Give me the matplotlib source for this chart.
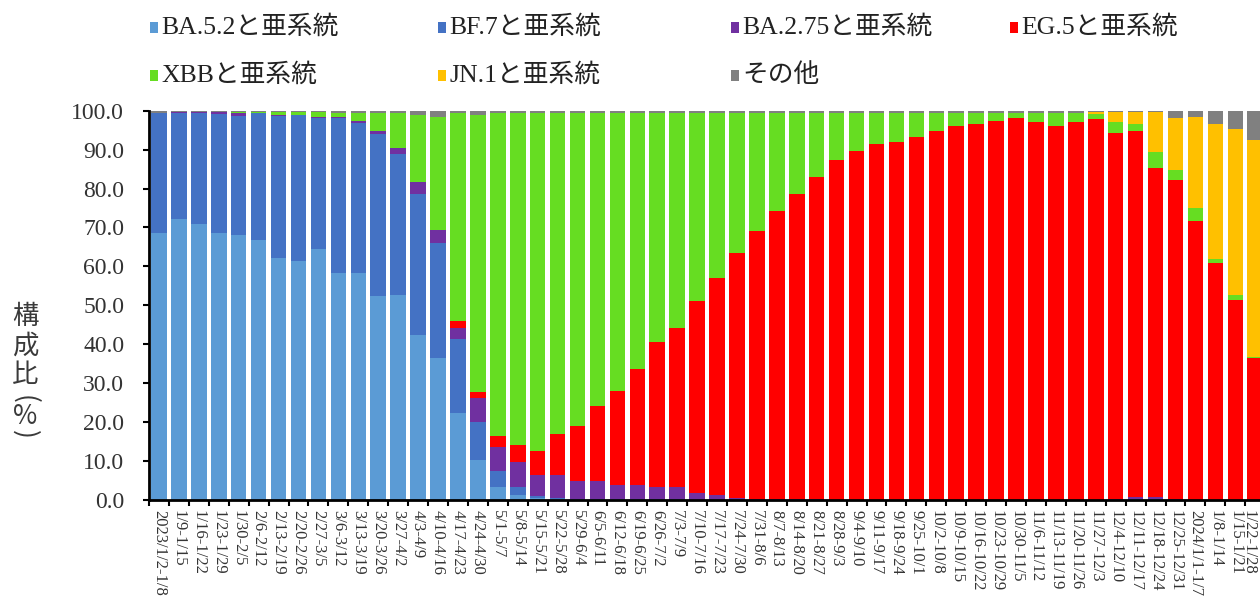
"""Weekly variant share (stacked 100% bars), 2023/1 - 2024/1."""

import matplotlib
matplotlib.use("Agg")
import matplotlib.pyplot as plt
from matplotlib.patches import Rectangle
from matplotlib.ticker import FixedLocator, FuncFormatter
import numpy as np

weeks = [
    "2023/1/2-1/8", "1/9-1/15", "1/16-1/22", "1/23-1/29", "1/30-2/5", "2/6-2/12",
    "2/13-2/19", "2/20-2/26", "2/27-3/5", "3/6-3/12", "3/13-3/19", "3/20-3/26",
    "3/27-4/2", "4/3-4/9", "4/10-4/16", "4/17-4/23", "4/24-4/30", "5/1-5/7",
    "5/8-5/14", "5/15-5/21", "5/22-5/28", "5/29-6/4", "6/5-6/11", "6/12-6/18",
    "6/19-6/25", "6/26-7/2", "7/3-7/9", "7/10-7/16", "7/17-7/23", "7/24-7/30",
    "7/31-8/6", "8/7-8/13", "8/14-8/20", "8/21-8/27", "8/28-9/3", "9/4-9/10",
    "9/11-9/17", "9/18-9/24", "9/25-10/1", "10/2-10/8", "10/9-10/15", "10/16-10/22",
    "10/23-10/29", "10/30-11/5", "11/6-11/12", "11/13-11/19", "11/20-11/26",
    "11/27-12/3", "12/4-12/10", "12/11-12/17", "12/18-12/24", "12/25-12/31",
    "2024/1/1-1/7", "1/8-1/14", "1/15-1/21", "1/22-1/28",
]

ba52 = [68.7, 72.3, 70.8, 68.7, 68.1, 66.8, 62.1, 61.5, 64.4, 58.4, 58.4, 52.4,
        52.7, 42.4, 36.6, 22.3, 10.4, 3.4, 1.3, 0.5, 0.2, 0.1, 0.1, 0.1,
        0.1, 0.1, 0.1, 0, 0, 0, 0, 0, 0, 0, 0, 0,
        0, 0, 0, 0, 0, 0, 0, 0, 0, 0, 0, 0,
        0, 0, 0, 0, 0, 0, 0, 0]
bf7 = [30.6, 27.2, 28.7, 30.5, 30.6, 32.6, 36.6, 37.3, 33.8, 39.6, 38.5, 41.5,
       36.3, 36.2, 29.3, 19.0, 9.7, 4.0, 2.1, 0.5, 0.3, 0.2, 0.2, 0.1,
       0.1, 0.1, 0.1, 0.1, 0.1, 0, 0, 0, 0, 0, 0, 0,
       0, 0, 0, 0, 0, 0, 0, 0, 0, 0, 0, 0,
       0, 0.2, 0.2, 0, 0, 0, 0, 0]
ba275 = [0.1, 0.1, 0.1, 0.4, 0.6, 0.1, 0.2, 0.2, 0.2, 0.5, 0.4, 1.0,
         1.5, 3.2, 3.4, 3.0, 6.2, 6.3, 6.4, 5.4, 5.9, 4.6, 4.6, 3.7,
         3.7, 3.2, 3.2, 1.6, 1.2, 0.5, 0.3, 0.3, 0.2, 0.2, 0.1, 0.1,
         0.1, 0.1, 0.1, 0.1, 0.1, 0.1, 0.1, 0.1, 0.1, 0.1, 0.1, 0.1,
         0.3, 0.6, 0.6, 0.2, 0.1, 0.1, 0.1, 0.1]
eg5 = [0, 0, 0, 0, 0, 0, 0, 0, 0, 0, 0, 0,
       0, 0, 0, 1.7, 1.4, 2.7, 4.3, 6.2, 10.5, 14.1, 19.2, 24.1,
       29.7, 37.3, 40.9, 49.4, 55.8, 63.0, 68.8, 73.9, 78.4, 82.8, 87.2, 89.6,
       91.3, 91.9, 93.2, 94.8, 96.0, 96.4, 97.2, 97.9, 96.9, 96.0, 96.9, 97.7,
       94.1, 94.1, 84.6, 82.0, 71.6, 60.9, 51.4, 36.3]
xbb = [0.1, 0.1, 0.1, 0.1, 0.3, 0.2, 0.7, 0.6, 1.2, 1.0, 2.2, 4.5,
       8.8, 17.2, 29.0, 53.3, 71.2, 82.9, 85.4, 86.9, 82.6, 80.5, 75.4, 71.5,
       65.9, 58.8, 55.2, 48.4, 42.4, 36.0, 30.4, 25.3, 20.9, 16.5, 12.2, 9.8,
       8.1, 7.5, 6.2, 4.5, 3.4, 2.9, 2.2, 1.5, 2.5, 3.4, 2.5, 1.4,
       2.8, 1.6, 4.1, 2.6, 3.4, 0.8, 1.2, 0.4]
jn1 = [0, 0, 0, 0, 0, 0, 0, 0, 0, 0, 0, 0,
       0, 0, 0, 0, 0, 0, 0, 0, 0, 0, 0, 0,
       0, 0, 0, 0, 0, 0, 0, 0, 0, 0, 0, 0,
       0, 0, 0, 0, 0, 0, 0, 0, 0, 0, 0, 0.5,
       2.4, 3.1, 10.1, 13.2, 23.4, 34.8, 42.6, 55.8]
other = [0.5, 0.3, 0.3, 0.3, 0.4, 0.3, 0.4, 0.4, 0.4, 0.5, 0.5, 0.6,
         0.7, 1.0, 1.7, 0.7, 1.1, 0.7, 0.5, 0.5, 0.5, 0.5, 0.5, 0.5,
         0.5, 0.5, 0.5, 0.5, 0.5, 0.5, 0.5, 0.5, 0.5, 0.5, 0.5, 0.5,
         0.5, 0.5, 0.5, 0.6, 0.5, 0.6, 0.5, 0.5, 0.5, 0.5, 0.5, 0.3,
         0.4, 0.4, 0.4, 2.0, 1.5, 3.4, 4.7, 7.4]

series = [
    ("BA.5.2と亜系統", ba52, "#5B9BD5"),
    ("BF.7と亜系統", bf7, "#4472C4"),
    ("BA.2.75と亜系統", ba275, "#7030A0"),
    ("EG.5と亜系統", eg5, "#FF0000"),
    ("XBBと亜系統", xbb, "#66DD22"),
    ("JN.1と亜系統", jn1, "#FFC000"),
    ("その他", other, "#808080"),
]

W, H = 1260, 608
TXT = "#333333"

plt.rcParams["font.family"] = ["Liberation Serif", "Noto Sans CJK JP"]
plt.rcParams["ytick.labelsize"] = 17
plt.rcParams["xtick.labelsize"] = 12

fig = plt.figure(figsize=(W / 100, H / 100), dpi=100)
ax = fig.add_axes([149 / W, 108 / H, (W - 149) / W, 389.3 / H])

x = np.arange(len(weeks))
bottom = np.zeros(len(weeks))
for name, values, color in series:
    vals = np.asarray(values, dtype=float)
    ax.bar(x, vals, bottom=bottom, width=0.78, color=color, edgecolor="none", zorder=2)
    bottom += vals

ax.set_xlim(-0.5, 55.24)
ax.set_ylim(0, 100)

ax.yaxis.set_major_locator(FixedLocator(np.arange(0, 101, 10)))
ax.yaxis.set_major_formatter(FuncFormatter(lambda v, _: f"{v:.1f}"))
ax.tick_params(axis="y", direction="out", length=4.3, width=1.5, color="black",
               labelcolor=TXT, pad=13.5)

# boundary ticks between categories, labels under bar centres
ax.xaxis.set_major_locator(FixedLocator(np.arange(-0.5, len(weeks), 1.0)))
ax.xaxis.set_major_formatter(FuncFormatter(lambda v, _: ""))
ax.xaxis.set_minor_locator(FixedLocator(x[:-1]))
ax.set_xticklabels(weeks[:-1], minor=True, rotation=270, color=TXT,
                   va="top", ha="center")
ax.tick_params(axis="x", which="major", direction="out", length=4.3, width=1.5, color="black")
ax.tick_params(axis="x", which="minor", length=0, pad=7)
# last week sits on the right edge of the image; nudge it inside
ax.annotate(weeks[-1], xy=(x[-1], 0), xycoords=("data", "axes fraction"),
            xytext=(-4.5, -7), textcoords="offset points", rotation=270,
            ha="center", va="top", fontsize=12, color=TXT, annotation_clip=False)

for side in ("top", "right"):
    ax.spines[side].set_visible(False)
for side in ("left", "bottom"):
    ax.spines[side].set_linewidth(2)
    ax.spines[side].set_color("black")
    ax.spines[side].set_zorder(3)

# y label: vertical Japanese text, stacked characters
for ch, yc, rot in [("構", 316, 0), ("成", 346, 0), ("比", 374, 0),
                    ("(", 399, 270), ("%", 416, 0), (")", 434, 270)]:
    fig.text(25 / W, 1 - yc / H, ch, ha="center", va="center", rotation=rot,
             fontsize=19, color="#3a3a3a", family=["Noto Sans CJK JP", "DejaVu Sans"])

# legend laid out like the source (fixed slots)
slots = [(150, 27), (438, 27), (731, 27), (1010, 27),
         (150, 75), (438, 75), (731, 75)]
for (name, _, color), (lx, ly) in zip(series, slots):
    fig.add_artist(Rectangle((lx / W, 1 - (ly + 5.5) / H), 8 / W, 11 / H,
                             transform=fig.transFigure, facecolor=color, edgecolor="none"))
    fig.text((lx + 11) / W, 1 - ly / H, name, ha="left", va="center",
             fontsize=18.5, color="#222222")

fig.savefig("out.png", dpi=100)
